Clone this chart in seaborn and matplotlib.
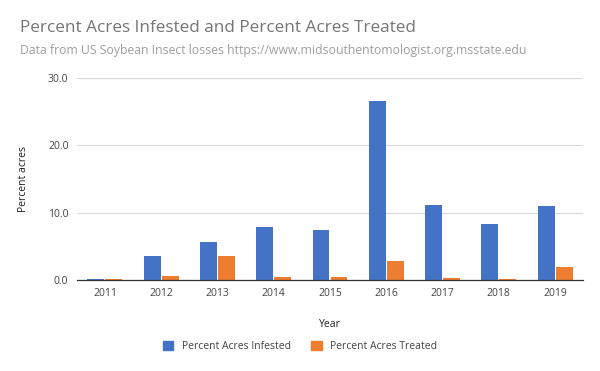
import pandas as pd
import matplotlib.pyplot as plt
import seaborn as sns

# Values
years = ['2011', '2012', '2013', '2014', '2015', '2016', '2017', '2018', '2019']
infested = [0.15, 3.6, 5.6, 7.9, 7.4, 26.6, 11.1, 8.3, 11.0]
treated = [0.1, 0.6, 3.6, 0.45, 0.45, 2.8, 0.3, 0.15, 1.9]
series_names = ['Percent Acres Infested', 'Percent Acres Treated']
colors = ['#4472C4', '#ED7D31']

df = pd.DataFrame({'Year': years, series_names[0]: infested, series_names[1]: treated})
long_df = df.melt(id_vars='Year', var_name='Series', value_name='Percent')

sns.set_theme(style='white')
plt.rcParams['font.family'] = ['Open Sans', 'DejaVu Sans']

fig = plt.figure(figsize=(6, 3.71), dpi=100)
ax = fig.add_axes([0.128, 0.245, 0.844, 0.545])

sns.barplot(data=long_df, x='Year', y='Percent', hue='Series', palette=colors,
            width=0.64, gap=0.06, saturation=1, linewidth=0, ax=ax, legend=False)

ax.set_ylim(0, 30)
ax.set_yticks([0, 10, 20, 30])
ax.set_yticklabels(['0.0', '10.0', '20.0', '30.0'])
ax.yaxis.grid(True, color='#d9d9d9', linewidth=0.8)
ax.set_axisbelow(True)
for side in ['top', 'right', 'left']:
    ax.spines[side].set_visible(False)
ax.spines['bottom'].set_color('#333333')
ax.spines['bottom'].set_linewidth(0.9)
ax.tick_params(axis='both', length=0, labelsize=7.5, colors='#444444', pad=6)
ax.set_xlim(-0.5, 8.5)

ax.set_xlabel('Year', fontsize=7.5, color='#222222', labelpad=14)
ax.set_ylabel('Percent acres', fontsize=7.5, color='#222222', labelpad=14)

fig.text(0.033, 0.915, 'Percent Acres Infested and Percent Acres Treated',
         fontsize=12.3, color='#757575', va='baseline')
fig.text(0.033, 0.855, 'Data from US Soybean Insect losses https://www.midsouthentomologist.org.msstate.edu',
         fontsize=8.8, color='#9e9e9e', va='baseline')

handles = [plt.Rectangle((0, 0), 1, 1, color=c) for c in colors]
fig.legend(handles, series_names, loc='center', bbox_to_anchor=(0.5, 0.067), ncol=2,
           frameon=False, fontsize=7.5, handlelength=1.0, handleheight=1.0,
           columnspacing=2.0, labelcolor='#444444')

fig.savefig('out.png', dpi=100)
